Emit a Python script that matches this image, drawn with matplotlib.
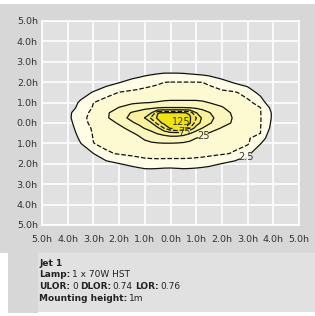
import matplotlib
matplotlib.use("Agg")
import matplotlib.pyplot as plt
import numpy as np
from matplotlib.patches import Rectangle

# grid of sample points, in mounting heights
x_h = [-4, -3.5, -3, -2.5, -2, -1.5, -1.25, -1, -0.75, -0.5, -0.25, 0, 0.25,
       0.5, 0.75, 1, 1.25, 1.5, 2, 2.5, 3, 3.5, 4]
y_h = [2.5, 2, 1.5, 1, 0.75, 0.5, 0.25, 0, -0.25, -0.5, -0.75, -1, -1.5, -2, -2.5]

# illuminance (lux), one row per y_h
lux_rows = [
    [0.1, 0.15, 0.2, 0.36, 0.58, 0.95, 1.15, 1.4, 1.65, 1.9, 2.1, 2.1, 2.1, 2.0, 1.8, 1.6, 1.4, 1.2, 0.83, 0.52, 0.29, 0.12, 0.1],
    [0.12, 0.29, 0.72, 1.4, 2.3, 4.0, 4.9, 6.3, 7.4, 8.6, 9.9, 10.2, 10.2, 10.2, 10.2, 10.1, 9.9, 8.2, 4.0, 2.1, 1.15, 0.36, 0.15],
    [0.48, 1.25, 2.8, 5.8, 10.3, 12.6, 13.5, 14.5, 15, 15.6, 16.1, 16.4, 16.4, 16.4, 16.4, 16.3, 16.1, 15.6, 13.2, 11.2, 6.5, 1.44, 0.63],
    [0.95, 3.2, 9.8, 18, 18.9, 22.3, 23.4, 24.5, 25.2, 26.2, 27.5, 28.1, 28.1, 28.1, 28.1, 28.1, 27, 24.8, 21.2, 17.4, 13, 6.5, 0.5],
    [1.1, 4.1, 11.2, 17.5, 25.7, 35.4, 39.8, 44.2, 46.4, 49, 51, 51, 51, 51, 49.5, 47, 42.4, 36.8, 26.3, 18.9, 13.7, 10.1, 1.36],
    [1.7, 6.1, 13.5, 22.5, 35.3, 52.5, 58.5, 65.5, 74, 124, 127, 127, 130, 127, 122, 76, 63.8, 52, 33, 21.7, 15.1, 10.5, 1.9],
    [1.7, 7.2, 14.3, 22.4, 39.5, 58.2, 66, 75.5, 106, 129, 137, 145, 147, 140, 129, 101, 70, 59.3, 37.7, 22.5, 15.6, 10.7, 1.9],
    [1.36, 6.8, 13.2, 18.6, 27.2, 46.4, 55, 63, 72.4, 112, 133, 142, 143, 136, 128, 89.5, 65.6, 54, 33.7, 21.8, 15.2, 10.7, 1.65],
    [1.2, 5.1, 11.8, 15.8, 21.2, 31.4, 41.2, 52, 60.3, 69.5, 101, 130, 141, 130, 101, 64.6, 49.5, 38.4, 23.7, 18, 13.6, 10.3, 1.4],
    [1.0, 4.1, 11.1, 14.2, 18.3, 23.6, 28.1, 35, 43.9, 52.6, 59.9, 67.8, 68.9, 64.6, 52.5, 40.9, 31.3, 24.1, 20.6, 15.6, 12.5, 10.1, 0.8],
    [0.83, 3.2, 10.5, 13.5, 16.5, 19.5, 22.2, 27.4, 31.6, 35.7, 39, 40.6, 40.1, 36.6, 30.8, 24.8, 22.4, 20.2, 17.5, 15.4, 12, 4.7, 0.93],
    [0.63, 2.4, 9.8, 13.2, 14.3, 16.4, 18.2, 21.1, 23, 24, 24.5, 24.5, 24, 23.1, 21.4, 19.9, 18.2, 16.7, 14.8, 13.2, 12, 2.7, 0.55],
    [0.3, 0.95, 2.45, 8.5, 11, 13.5, 15, 16.5, 17.5, 18.5, 19, 19, 18.5, 18, 17.5, 16.5, 15.5, 14, 11.5, 9, 3.5, 0.83, 0.3],
    [0.15, 0.3, 0.63, 1.5, 2.4, 3.6, 4.4, 5.3, 5.5, 5.4, 5.1, 5.0, 5.2, 5.3, 5.2, 4.8, 4.3, 3.7, 2.4, 1.5, 0.8, 0.3, 0.15],
    [0.1, 0.12, 0.2, 0.38, 0.6, 0.83, 0.95, 1.1, 1.1, 1.03, 0.95, 0.93, 1.0, 1.1, 1.05, 1.0, 0.9, 0.83, 0.6, 0.38, 0.2, 0.12, 0.1],
]

iso_levels = [2.5, 10, 25, 50, 75, 100, 125]
labelled_levels = [2.5, 25, 75, 125]          # solid, with value label
plain_levels = [10, 50, 100]                  # unlabelled lines
plain_styles = ['dashed', 'solid', 'dashed']
fill_colors = ['#fffde6', '#fdfad2', '#fbf6bb', '#f9f29a', '#f6ed6e', '#f3e942', '#f1e40c']

tick_vals = [-5, -4, -3, -2, -1, 0, 1, 2, 3, 4, 5]
tick_labels = ['5.0h', '4.0h', '3.0h', '2.0h', '1.0h', '0.0h', '1.0h', '2.0h', '3.0h', '4.0h', '5.0h']

title = 'Jet 1'
info_lines = [
    [('Lamp:', True), ('1 x 70W HST', False)],
    [('ULOR:', True), ('0', False), ('DLOR:', True), ('0.74', False), ('LOR:', True), ('0.76', False)],
    [('Mounting height:', True), ('1m', False)],
]

W, H = 315, 316
fig = plt.figure(figsize=(W / 100, H / 100), dpi=100)
fig.patch.set_facecolor('white')


def panel(x0, y0, x1, y1, color, z):
    # rectangle given in pixel coords from top-left
    fig.add_artist(Rectangle((x0 / W, 1 - y1 / H), (x1 - x0) / W, (y1 - y0) / H,
                             transform=fig.transFigure, facecolor=color,
                             edgecolor='none', zorder=z))


panel(0, 4, W, 253, '#d7d7d7', -10)
panel(8, 253, 38, 313, '#d7d7d7', -9)
panel(38, 253, W, 312, '#e1e1e1', -9)

ax = fig.add_axes([42 / W, 1 - 225 / H, 257 / W, 204 / H])
ax.set_facecolor('#e1e1e1')

X, Y = np.meshgrid(x_h, y_h)
Z = np.log10(np.array(lux_rows))

ax.contourf(X, Y, Z, levels=list(np.log10(iso_levels)) + [Z.max() + 1],
            colors=fill_colors, zorder=1)
ax.contour(X, Y, Z, levels=np.log10(plain_levels), colors='#111111', linewidths=0.9,
           linestyles=plain_styles, zorder=3)
cs = ax.contour(X, Y, Z, levels=np.log10(labelled_levels), colors='#111111',
                linewidths=0.9, linestyles='solid', zorder=3)

fmt = {l: ('%g' % v) for l, v in zip(cs.levels, labelled_levels)}
labels = cs.clabel(fmt=fmt, fontsize=7, colors='#333333', inline=True, inline_spacing=1,
                   manual=[(2.9, -1.6), (1.3, -0.65), (0.56, -0.44), (0.4, -0.3)])
for t in labels:
    t.set_rotation(0)
# the 125 value sits in the middle of the bright core
labels[-1].set_position((0.41, 0.06))

ax.set_xlim(-5, 5)
ax.set_ylim(-5, 5)
ax.set_xticks(tick_vals)
ax.set_yticks(tick_vals)
ax.set_xticklabels(tick_labels)
ax.set_yticklabels(tick_labels[::-1])
ax.tick_params(length=0, labelsize=6.8, labelcolor='#333333')
ax.tick_params(axis='x', pad=7.5)
ax.tick_params(axis='y', pad=3)
ax.set_axisbelow(True)
ax.grid(True, color='white', linewidth=1.2)
for s in ax.spines.values():
    s.set_color('white')
    s.set_linewidth(1.2)

# info block with bold keys
fs = 6.5
fig.text(39 / W, 1 - 266 / H, title, fontsize=fs, fontweight='bold', color='#222222')
for i, parts in enumerate(info_lines):
    y = 1 - (277 + 12 * i) / H
    prev = fig.text(39 / W, y, parts[0][0], fontsize=fs,
                    fontweight='bold' if parts[0][1] else 'normal', color='#222222')
    for txt, bold in parts[1:]:
        prev = ax.annotate(txt, xy=(1, 0), xycoords=prev, xytext=(1.4, 0),
                           textcoords='offset points', va='bottom', ha='left',
                           fontsize=fs, fontweight='bold' if bold else 'normal',
                           color='#222222', annotation_clip=False)

fig.savefig('out.png', dpi=100)
plt.close(fig)
